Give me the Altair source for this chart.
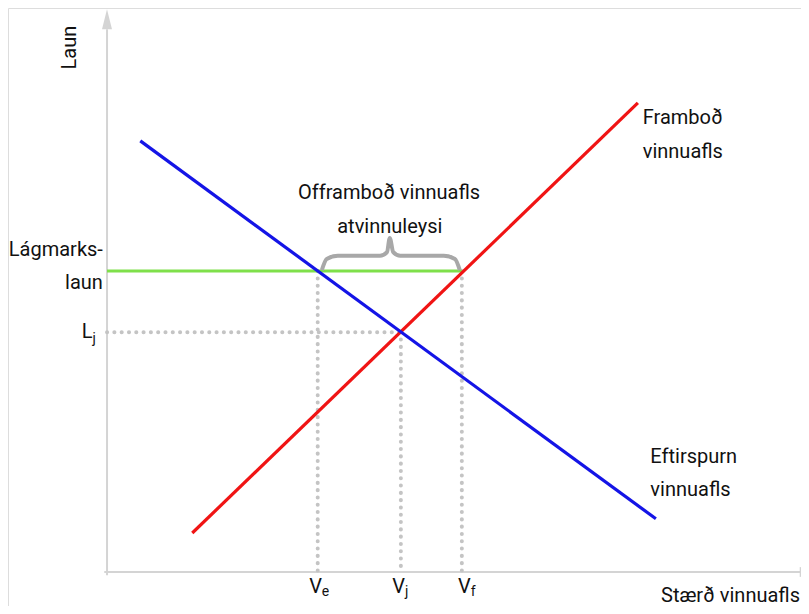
import altair as alt
import pandas as pd

# ---- data (abstract units: quantity on x, wage on y) ----
supply_x = [12.3, 76.6]
supply_y = [7.4, 89.0]
demand_x = [4.8, 79.2]
demand_y = [81.8, 10.1]
min_wage = 57.1
eq_x, eq_y = 42.4, 45.5
ve_x, vf_x = 30.4, 51.2

brace_x = [31.0, 31.7, 33.3, 39.4, 40.4, 40.8, 41.3, 42.3, 48.6, 50.2, 50.9]
brace_y = [57.3, 59.4, 60.0, 60.0, 60.7, 63.4, 60.7, 60.0, 60.0, 59.4, 57.3]

FONT = "Roboto"
FS = 20
X_DOMAIN = [-14.29, 100.14]
Y_DOMAIN = [-6.45, 107.02]

xs = alt.Scale(domain=X_DOMAIN, nice=False, zero=False)
ys = alt.Scale(domain=Y_DOMAIN, nice=False, zero=False)
X = lambda f="x": alt.X(f"{f}:Q", scale=xs, axis=None)
Y = lambda f="y": alt.Y(f"{f}:Q", scale=ys, axis=None)


def rules(rows, color, width, dash=None, cap="butt"):
    df = pd.DataFrame(rows, columns=["x", "y", "x2", "y2"])
    kw = dict(color=color, strokeWidth=width, strokeCap=cap)
    if dash:
        kw["strokeDash"] = dash
    return alt.Chart(df).mark_rule(**kw).encode(
        x=X(), y=Y(), x2="x2:Q", y2="y2:Q")


def texts(rows, align="center", size=FS, angle=0, baseline="middle"):
    df = pd.DataFrame(rows, columns=["x", "y", "t"])
    kw = dict(align=align, baseline=baseline, font=FONT, fontSize=size, color="#111111")
    if angle:
        kw["angle"] = angle
    return alt.Chart(df).mark_text(**kw).encode(x=X(), y=Y(), text="t:N")


axis_color = "#d4d4d4"
axes = rules([(0, -0.6, 0, 103.0), (-0.4, 0, 100.0, 0)], axis_color, 2)
arrow_up = alt.Chart(pd.DataFrame({"x": [0], "y": [104.9]})).mark_point(
    shape="M-0.5,1L0,-1L0.5,1Z", size=400, filled=True, opacity=1, color=axis_color
).encode(x=X(), y=Y())
arrow_right = alt.Chart(pd.DataFrame({"x": [101.4], "y": [0]})).mark_point(
    shape="M-1,-0.5L1,0L-1,0.5Z", size=400, filled=True, opacity=1, color=axis_color
).encode(x=X(), y=Y())

dots = rules(
    [(0, eq_y, eq_x, eq_y), (ve_x, min_wage, ve_x, 0), (eq_x, eq_y, eq_x, 0), (vf_x, min_wage, vf_x, 0)],
    "#c4c4c4", 4, dash=[0.1, 7.2], cap="round")

green = rules([(0, min_wage, vf_x, min_wage)], "#7fe04a", 3)
red = rules([(supply_x[0], supply_y[0], supply_x[1], supply_y[1])], "#f01414", 3.2)
blue = rules([(demand_x[0], demand_y[0], demand_x[1], demand_y[1])], "#1414e6", 3.2)

brace = alt.Chart(pd.DataFrame({"x": brace_x, "y": brace_y, "o": range(len(brace_x))})).mark_line(
    interpolate="monotone", color="#a8a8a8", strokeWidth=4
).encode(x=X(), y=Y(), order="o:Q")

t_center = texts([(40.7, 71.9, "Offramboð vinnuafls"), (40.8, 65.5, "atvinnuleysi")])
t_left = texts([(77.3, 86.1, "Framboð"), (77.3, 79.7, "vinnuafls"),
                (78.4, 21.8, "Eftirspurn"), (78.4, 15.6, "vinnuafls")], align="left")
t_right = texts([(-0.6, 61.1, "Lágmarks-"), (-0.6, 54.8, "laun"), (-2.1, eq_y, "L"),
                 (100.0, -4.6, "Stærð vinnuafls"),
                 (ve_x + 0.6, -2.9, "V"), (eq_x + 0.6, -2.9, "V"), (vf_x + 1.3, -2.9, "V")], align="right")
t_sub = texts([(-2.1, eq_y - 1.3, "j"), (ve_x + 0.6, -3.8, "e"), (eq_x + 0.6, -3.8, "j"),
               (vf_x + 1.3, -3.8, "f")], align="left", size=14)
t_laun = texts([(-5.3, 99.5, "Laun")], angle=270)

chart = alt.layer(
    axes, arrow_up, arrow_right, dots, green, red, blue, brace,
    t_center, t_left, t_right, t_sub, t_laun
).properties(
    width=793, height=598, padding=0, autosize=alt.AutoSizeParams(type="none")
).configure_view(stroke="transparent", strokeWidth=0).configure(background="white")

chart.save("out.html", embed_options={"renderer": "svg", "actions": False})
